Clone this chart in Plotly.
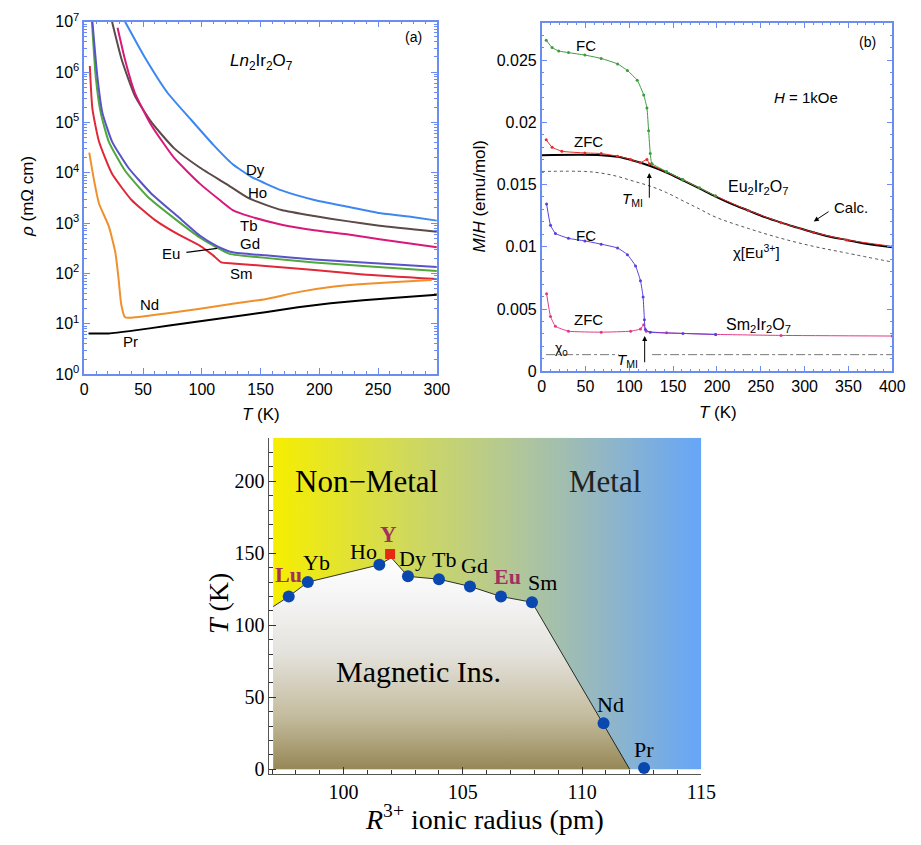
import plotly.graph_objects as go

W, H = 921, 845

# ---------------- Panel (a): resistivity, Ln2Ir2O7 ----------------
T_Dy = [34.7, 51.3, 70.8, 90.2, 109.6, 126.3, 142.9, 167.9, 195.7, 223.4, 251.2, 278.9, 300]
lg_Dy = [7.0, 6.30, 5.59, 5.07, 4.56, 4.17, 3.91, 3.65, 3.46, 3.33, 3.20, 3.12, 3.05]
T_Ho = [23.6, 31.9, 43.0, 56.9, 76.3, 98.5, 120.7, 140.2, 167.9, 195.7, 223.4, 251.2, 300]
lg_Ho = [7.0, 6.24, 5.53, 5.01, 4.49, 4.10, 3.78, 3.49, 3.26, 3.14, 3.04, 2.95, 2.83]
T_Tb = [28.3, 34.7, 43.0, 56.9, 76.3, 98.5, 115.2, 126.3, 140.2, 167.9, 195.7, 223.4, 251.2, 300]
lg_Tb = [6.88, 6.24, 5.59, 4.95, 4.30, 3.78, 3.46, 3.26, 3.14, 2.97, 2.86, 2.78, 2.68, 2.52]
T_Gd = [6.9, 11.1, 15.3, 23.6, 37.5, 56.9, 79.1, 98.5, 112.4, 126.3, 154.0, 195.7, 237.3, 300]
lg_Gd = [7.0, 5.91, 5.20, 4.62, 4.10, 3.59, 3.14, 2.75, 2.55, 2.42, 2.36, 2.28, 2.22, 2.13]
T_Eu = [6.5, 9.7, 13.9, 20.8, 34.7, 54.1, 76.3, 98.5, 112.4, 123.5, 154.0, 195.7, 237.3, 300]
lg_Eu = [7.0, 5.91, 5.20, 4.62, 4.04, 3.52, 3.10, 2.71, 2.52, 2.39, 2.31, 2.22, 2.15, 2.05]
T_Sm = [4.7, 6.9, 12.5, 23.6, 40.2, 59.6, 81.9, 98.5, 109.6, 116.6, 126.3, 154.0, 195.7, 237.3, 300]
lg_Sm = [6.12, 5.27, 4.62, 3.98, 3.46, 3.07, 2.75, 2.55, 2.36, 2.22, 2.20, 2.15, 2.07, 1.98, 1.89]
T_Nd = [4.2, 8.3, 12.5, 20.8, 26.4, 29.1, 31.4, 34.7, 43.0, 70.8, 98.5, 126.3, 154.0, 181.8, 209.5, 237.3, 265.1, 295.6]
lg_Nd = [4.40, 3.85, 3.39, 2.94, 2.42, 1.91, 1.39, 1.13, 1.13, 1.21, 1.30, 1.40, 1.49, 1.63, 1.73, 1.79, 1.83, 1.87]
T_Pr = [3.6, 20.8, 43.0, 70.8, 98.5, 126.3, 154.0, 181.8, 209.5, 237.3, 265.1, 300]
lg_Pr = [0.81, 0.81, 0.87, 0.96, 1.05, 1.14, 1.23, 1.33, 1.41, 1.47, 1.52, 1.58]

a_series = [
    ("Dy", T_Dy, lg_Dy, "#3c87f0"),
    ("Ho", T_Ho, lg_Ho, "#5c4a48"),
    ("Tb", T_Tb, lg_Tb, "#d8187a"),
    ("Eu", T_Eu, lg_Eu, "#4ea83c"),
    ("Gd", T_Gd, lg_Gd, "#5a52c8"),
    ("Sm", T_Sm, lg_Sm, "#e02838"),
    ("Nd", T_Nd, lg_Nd, "#f0902c"),
    ("Pr", T_Pr, lg_Pr, "#000000"),
]
# label positions (T, log10 rho)
a_labels = {"Dy": (145.7, 4.07), "Ho": (147, 3.60), "Tb": (140.2, 2.95), "Gd": (140.7, 2.60),
            "Eu": (74.1, 2.39), "Sm": (134, 2.0), "Nd": (55.5, 1.39), "Pr": (39.7, 0.65)}
eu_pointer_T = [86.9, 113.0]
eu_pointer_lg = [2.42, 2.50]

a_tickvals = [1, 10, 100, 1e3, 1e4, 1e5, 1e6, 1e7]
a_ticktext = ["10<sup>%d</sup>" % k for k in range(8)]

# ---------------- Panel (b): magnetization ----------------
T_EuFC = [5.2, 11.9, 19.4, 30.6, 49.3, 67.9, 86.6, 97.8, 109.0, 116.4, 120.1, 122.0, 123.9, 125.7, 142.5, 161.0, 180.0, 198.5]
M_EuFC = [0.0266, 0.0260, 0.02573, 0.0256, 0.0254, 0.02513, 0.02469, 0.02416, 0.02338, 0.0222, 0.02115, 0.01932, 0.01749, 0.0167, 0.01605, 0.0154, 0.01474, 0.01408]
T_EuZFC = [5.2, 11.9, 23.1, 49.3, 67.9, 86.6, 101.5, 112.7, 120.1, 123.1, 142.5, 161.2, 198.5, 235.8, 273.1, 310.4, 347.8, 400]
M_EuZFC = [0.01859, 0.0180, 0.01767, 0.01754, 0.01749, 0.01728, 0.01702, 0.01675, 0.01702, 0.01665, 0.01600, 0.01537, 0.01408, 0.01292, 0.01194, 0.01115, 0.01055, 0.01003]
T_calc = [0, 67.9, 86.6, 105.2, 123.9, 142.5, 161.2, 179.9, 198.5, 217.2, 235.8, 254.5, 273.1, 291.8, 310.4, 329.1, 347.8, 366.4, 400]
M_calc = [0.01736, 0.01736, 0.01723, 0.01691, 0.01649, 0.01597, 0.01534, 0.01469, 0.01403, 0.01343, 0.01291, 0.01238, 0.01194, 0.01154, 0.01115, 0.01081, 0.01055, 0.01029, 0.00997]
T_chiEu = [0, 49.3, 67.9, 86.6, 105.2, 123.9, 142.5, 161.2, 179.9, 198.5, 235.8, 273.1, 310.4, 347.8, 400]
M_chiEu = [0.01605, 0.01605, 0.01592, 0.01565, 0.01526, 0.01487, 0.01435, 0.01369, 0.01304, 0.01238, 0.01147, 0.01068, 0.01003, 0.0095, 0.00877]
T_SmFC = [5.6, 10.1, 15.7, 30.6, 49.3, 67.9, 86.6, 97.8, 107.1, 112.7, 115.7, 117.2, 118.3, 123.9, 161.2, 198.5]
M_SmFC = [0.01343, 0.01173, 0.01107, 0.01068, 0.01047, 0.01021, 0.0099, 0.00937, 0.00846, 0.00728, 0.00597, 0.00414, 0.00335, 0.00314, 0.00304, 0.00296]
T_SmZFC = [5.6, 10.1, 15.7, 30.6, 67.9, 101.5, 112.7, 116.4, 119.4, 142.5, 198.5, 273.1, 400]
M_SmZFC = [0.00623, 0.0044, 0.00361, 0.00322, 0.00314, 0.00322, 0.0034, 0.00374, 0.00322, 0.00309, 0.00296, 0.00288, 0.00283]
chi0 = 0.001335
chi0_T_seg1 = [5, 88]
chi0_T_seg2 = [126, 400]

b_tickvals = [0, 0.005, 0.01, 0.015, 0.02, 0.025]
b_ticktext = ["0", "0.005", "0.01", "0.015", "0.02", "0.025"]

# ---------------- Bottom: phase diagram ----------------
elements = ["Lu", "Yb", "Ho", "Dy", "Tb", "Gd", "Eu", "Sm", "Nd", "Pr"]
radius_pm = [97.7, 98.5, 101.5, 102.7, 104.0, 105.3, 106.6, 107.9, 110.9, 112.6]
T_MI = [120, 130, 142, 134, 132, 127, 120, 116, 32, 1]
Y_radius, Y_T = 101.95, 149.5
boundary_r = [97.05, 97.7, 98.5, 101.5, 102.0, 102.7, 104.0, 105.3, 106.6, 107.9, 112.0]
boundary_T = [113, 120, 130, 142, 147, 134, 132, 127, 120, 116, 0]
el_label_pos = {"Lu": (97.67, 135.6), "Yb": (98.87, 143.5), "Ho": (100.85, 151.5), "Dy": (102.88, 146.5),
                "Tb": (104.22, 145.8), "Gd": (105.48, 141.3), "Eu": (106.89, 133.8), "Sm": (108.35, 130.0),
                "Nd": (111.19, 45.2), "Pr": (112.6, 13.6)}
highlight = {"Lu", "Eu"}

R_MIN, R_MAX, T_TOP = 97.05, 115.0, 230.3


def px(x):
    return x / W


def py(y):
    return 1 - y / H


fig = go.Figure()

# panel a traces
for name, T, lg, col in a_series:
    fig.add_trace(go.Scatter(x=T, y=[10 ** v for v in lg], mode="lines", xaxis="x", yaxis="y",
                             line=dict(color=col, width=2, shape="spline", smoothing=0.5),
                             showlegend=False, hoverinfo="skip"))
fig.add_trace(go.Scatter(x=eu_pointer_T, y=[10 ** v for v in eu_pointer_lg], mode="lines",
                         xaxis="x", yaxis="y", line=dict(color="black", width=1.2), showlegend=False))

# panel b traces
fig.add_trace(go.Scatter(x=T_chiEu, y=M_chiEu, mode="lines", xaxis="x2", yaxis="y2",
                         line=dict(color="#555555", width=1, dash="dot", shape="spline"), showlegend=False))
for seg in (chi0_T_seg1, chi0_T_seg2):
    fig.add_trace(go.Scatter(x=seg, y=[chi0, chi0], mode="lines", xaxis="x2", yaxis="y2",
                             line=dict(color="#777777", width=1, dash="dashdot"), showlegend=False))
fig.add_trace(go.Scatter(x=T_calc, y=M_calc, mode="lines", xaxis="x2", yaxis="y2",
                         line=dict(color="black", width=2, shape="spline"), showlegend=False))
for T, M, col in [(T_EuZFC, M_EuZFC, "#e52a2a"), (T_EuFC, M_EuFC, "#3f9a3f"),
                  (T_SmZFC, M_SmZFC, "#e2388a"), (T_SmFC, M_SmFC, "#5b3fdc")]:
    fig.add_trace(go.Scatter(x=T, y=M, mode="lines+markers", xaxis="x2", yaxis="y2",
                             line=dict(color=col, width=1, shape="spline", smoothing=0.4),
                             marker=dict(color=col, size=3), showlegend=False))

# bottom panel: gradient regions
fig.add_trace(go.Scatter(x=[R_MIN, R_MAX, R_MAX, R_MIN, R_MIN], y=[0, 0, T_TOP, T_TOP, 0],
                         mode="lines", fill="toself", xaxis="x3", yaxis="y3", line=dict(width=0),
                         fillgradient=dict(type="horizontal",
                                           colorscale=[[0, "#f6ee00"], [0.3, "#d2da58"], [0.55, "#b4c894"],
                                                       [0.75, "#96b8c0"], [1, "#66a6f8"]]),
                         showlegend=False, hoverinfo="skip"))
fig.add_trace(go.Scatter(x=boundary_r + [boundary_r[-1], boundary_r[0], boundary_r[0]],
                         y=boundary_T + [0, 0, boundary_T[0]],
                         mode="lines", fill="toself", xaxis="x3", yaxis="y3", line=dict(width=0),
                         fillgradient=dict(type="vertical",
                                           colorscale=[[0, "#968756"], [0.25, "#c4bc9e"], [0.55, "#e4e2dc"],
                                                       [0.8, "#f4f4f4"], [1, "#ffffff"]]),
                         showlegend=False, hoverinfo="skip"))
fig.add_trace(go.Scatter(x=boundary_r, y=boundary_T, mode="lines", xaxis="x3", yaxis="y3",
                         line=dict(color="black", width=0.8), showlegend=False))
fig.add_trace(go.Scatter(x=radius_pm, y=T_MI, mode="markers", xaxis="x3", yaxis="y3",
                         marker=dict(color="#0a48b0", size=12), cliponaxis=False, showlegend=False))
fig.add_trace(go.Scatter(x=[Y_radius], y=[Y_T], mode="markers", xaxis="x3", yaxis="y3",
                         marker=dict(color="#e42a10", size=10, symbol="square"), showlegend=False))

ann = []
sans = "Liberation Sans"
serif = "Liberation Serif"
C = dict(xanchor="center", yanchor="middle", showarrow=False)
for name, (t, l) in a_labels.items():
    ann.append(dict(x=t, y=l, xref="x", yref="y", text=name,
                    font=dict(family=sans, size=15, color="black"), **C))
ann.append(dict(x=151, y=6.2, xref="x", yref="y",
                text="<i>Ln</i><sub>2</sub>Ir<sub>2</sub>O<sub>7</sub>",
                font=dict(family=sans, size=17, color="black"), **C))
ann.append(dict(x=280, y=6.69, xref="x", yref="y", text="(a)",
                font=dict(family=sans, size=14, color="black"), **C))

b_text = [
    (51, 0.02618, "FC", 15), (53, 0.01846, "ZFC", 15), (51, 0.01089, "FC", 15), (53, 0.00414, "ZFC", 15),
    (301, 0.0220, "<i>H</i> = 1kOe", 15), (372, 0.02644, "(b)", 14),
    (247, 0.01474, "Eu<sub>2</sub>Ir<sub>2</sub>O<sub>7</sub>", 16),
    (247, 0.00366, "Sm<sub>2</sub>Ir<sub>2</sub>O<sub>7</sub>", 16),
    (245, 0.00963, "χ[Eu<sup>3+</sup>]", 15), (353, 0.01317, "Calc.", 15),
    (23, 0.00178, "χ<sub>0</sub>", 14),
    (103.4, 0.01382, "<i>T</i><sub>MI</sub>", 15), (97.8, 0.00086, "<i>T</i><sub>MI</sub>", 15),
]
for t, m, txt, s in b_text:
    ann.append(dict(x=t, y=m, xref="x2", yref="y2", text=txt,
                    font=dict(family=sans, size=s, color="black"), **C))
for (hx, hy, tx, ty) in [(122.8, 0.01592, 122.8, 0.01382), (117.5, 0.00283, 117.5, 0.0006),
                         (310.4, 0.01204, 329, 0.0129)]:
    ann.append(dict(x=hx, y=hy, ax=tx, ay=ty, xref="x2", yref="y2", axref="x2", ayref="y2",
                    text="", showarrow=True, arrowhead=2, arrowsize=1, arrowwidth=1, arrowcolor="black"))

for el, (r, t) in el_label_pos.items():
    hl = el in highlight
    ann.append(dict(x=r, y=t, xref="x3", yref="y3",
                    text="<b>%s</b>" % el if hl else el,
                    font=dict(family=serif, size=22, color="#a3305e" if hl else "black"), **C))
ann.append(dict(x=101.87, y=163.2, xref="x3", yref="y3", text="<b>Y</b>",
                font=dict(family=serif, size=23, color="#a3305e"), **C))
ann.append(dict(x=100.96, y=200, xref="x3", yref="y3", text="Non−Metal",
                font=dict(family=serif, size=31, color="black"), **C))
ann.append(dict(x=110.96, y=200, xref="x3", yref="y3", text="Metal",
                font=dict(family=serif, size=31, color="#222222"), **C))
ann.append(dict(x=103.15, y=67.8, xref="x3", yref="y3", text="Magnetic Ins.",
                font=dict(family=serif, size=30, color="black"), **C))

# axis titles
ann += [
    dict(x=px(24), y=py(190), xref="paper", yref="paper", text="<i>ρ</i> (mΩ cm)", textangle=-90,
         font=dict(family=sans, size=17, color="black"), **C),
    dict(x=px(262), y=py(413), xref="paper", yref="paper", text="<i>T</i> (K)",
         font=dict(family=sans, size=17, color="black"), **C),
    dict(x=px(486), y=py(190), xref="paper", yref="paper", text="<i>M</i>/<i>H</i> (emu/mol)", textangle=-90,
         font=dict(family=sans, size=17, color="black"), **C),
    dict(x=px(729), y=py(411), xref="paper", yref="paper", text="<i>T</i> (K)",
         font=dict(family=sans, size=17, color="black"), **C),
    dict(x=px(219), y=py(607), xref="paper", yref="paper", text="<i>T</i> (K)", textangle=-90,
         font=dict(family=serif, size=28, color="black"), **C),
    dict(x=px(491), y=py(826), xref="paper", yref="paper", text="<i>R</i><sup>3+</sup> ionic radius (pm)",
         font=dict(family=serif, size=28, color="black"), **C),
]

blue = "#6b8cf0"
frame = dict(showline=True, linecolor=blue, linewidth=1.5, mirror="allticks", ticks="inside",
             tickcolor=blue, ticklen=6, zeroline=False, showgrid=False, ticklabeloverflow="allow",
             tickfont=dict(family=sans, size=16, color="black"))

minor_log = [m * 10 ** k for k in range(7) for m in range(2, 10)]

fig.update_layout(
    width=W, height=H, margin=dict(l=0, r=0, t=0, b=0),
    paper_bgcolor="white", plot_bgcolor="white", showlegend=False,
    xaxis=dict(domain=[px(82), px(442)], anchor="y", range=[0, 300], dtick=50, tick0=0,
               minor=dict(ticks="inside", ticklen=3, tickcolor=blue, dtick=10, showgrid=False), **frame),
    yaxis=dict(domain=[py(372), py(11)], anchor="x", type="log", range=[-0.0005, 7.0005],
               tickmode="array", tickvals=a_tickvals, ticktext=a_ticktext,
               minor=dict(ticks="inside", ticklen=3, tickcolor=blue, tickmode="array", tickvals=minor_log,
                          showgrid=False), **frame),
    xaxis2=dict(domain=[px(549), px(907)], anchor="y2", range=[0, 400], dtick=50, tick0=0,
                minor=dict(ticks="inside", ticklen=3, tickcolor=blue, dtick=10, showgrid=False), **frame),
    yaxis2=dict(domain=[py(369), py(12)], anchor="x2", range=[0, 0.028],
                tickmode="array", tickvals=b_tickvals, ticktext=b_ticktext,
                minor=dict(ticks="inside", ticklen=3, tickcolor=blue, dtick=0.001, tick0=0, showgrid=False),
                **frame),
    xaxis3=dict(domain=[px(271), px(712)], anchor="y3", range=[96.89, 115.0], tickvals=[100, 105, 110, 115],
                showline=True, linecolor="#555555", linewidth=1, ticks="inside", ticklen=7, tickcolor="#333333",
                minor=dict(ticks="inside", ticklen=4, tickcolor="#333333", dtick=1, tick0=0, showgrid=False),
                zeroline=False, showgrid=False, ticklabeloverflow="allow",
                tickfont=dict(family=serif, size=20, color="black")),
    yaxis3=dict(domain=[py(781), py(437)], anchor="x3", range=[-2.9, 230.3], tickvals=[0, 50, 100, 150, 200],
                showline=True, linecolor="#555555", linewidth=1, ticks="inside", ticklen=7, tickcolor="#333333",
                minor=dict(ticks="inside", ticklen=4, tickcolor="#333333", dtick=10, tick0=0, showgrid=False),
                zeroline=False, showgrid=False, ticklabeloverflow="allow",
                tickfont=dict(family=serif, size=20, color="black")),
    annotations=ann,
)

fig.write_html("out.html", config={"displayModeBar": False},
               post_script="document.body.style.margin='0';document.body.style.overflow='hidden';")
